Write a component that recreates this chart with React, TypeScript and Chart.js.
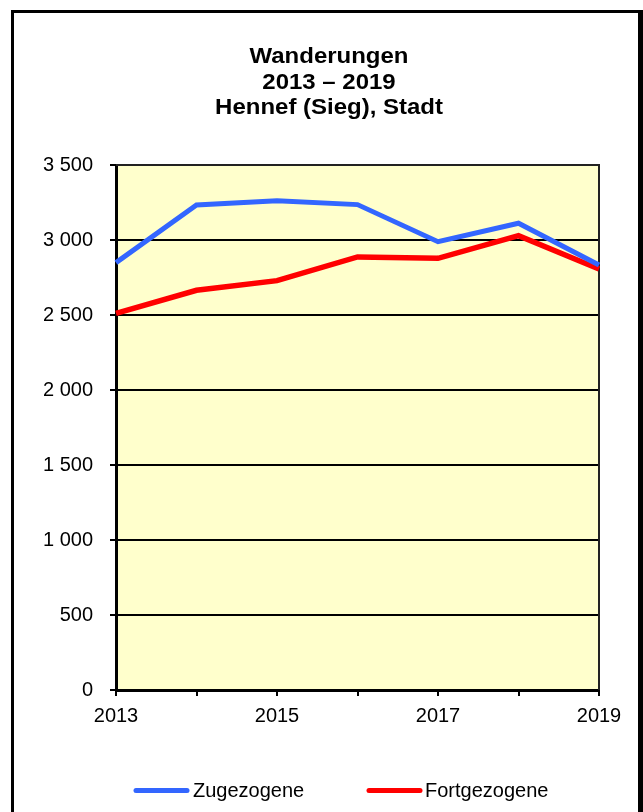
import React, { useEffect, useRef } from "react";
import { Chart, registerables } from "chart.js";

Chart.register(...registerables);

const years = ["2013", "2014", "2015", "2016", "2017", "2018", "2019"];
const zugezogene = [2849, 3233, 3262, 3236, 2989, 3112, 2833];
const fortgezogene = [2511, 2665, 2729, 2887, 2878, 3029, 2807];
const titleLines = ["Wanderungen", "2013 \u2013 2019", "Hennef (Sieg), Stadt"];
const seriesNames = ["Zugezogene", "Fortgezogene"];
const seriesColors = ["#3366FF", "#FF0000"];

const FONT = "'Liberation Sans', Arial, Helvetica, sans-serif";

function fmt(v: number): string {
  if (v >= 1000) {
    const th = Math.floor(v / 1000);
    const rest = String(v % 1000).padStart(3, "0");
    return th + " " + rest;
  }
  return String(v);
}

const decorPlugin = {
  id: "decor",
  beforeDraw(chart: any) {
    const ctx = chart.ctx;
    const a = chart.chartArea;
    ctx.save();
    ctx.fillStyle = "#FFFFFF";
    ctx.fillRect(0, 0, chart.width, chart.height);
    // outer frame
    ctx.fillStyle = "#000000";
    ctx.fillRect(11, 10, 632, 3);
    ctx.fillRect(11, 10, 3, chart.height - 10);
    ctx.fillRect(638, 10, 5, chart.height - 10);
    // plot background
    ctx.fillStyle = "#FFFFCC";
    ctx.fillRect(a.left, a.top, a.right - a.left, a.bottom - a.top);
    ctx.restore();
  },
  beforeDatasetsDraw(chart: any) {
    const ctx = chart.ctx;
    const a = chart.chartArea;
    ctx.save();
    ctx.strokeStyle = "#222222";
    ctx.lineWidth = 2;
    ctx.beginPath();
    ctx.moveTo(a.left, a.top);
    ctx.lineTo(a.right, a.top);
    ctx.lineTo(a.right, a.bottom);
    ctx.stroke();
    ctx.restore();
  },
  afterDraw(chart: any) {
    const ctx = chart.ctx;
    ctx.save();
    // title
    ctx.fillStyle = "#000000";
    ctx.font = "bold 22px " + FONT;
    ctx.textAlign = "center";
    ctx.textBaseline = "alphabetic";
    const baselines = [63, 88.5, 114];
    titleLines.forEach((t, i) => {
      ctx.save();
      ctx.translate(329, baselines[i]);
      ctx.scale(1.09, 1);
      ctx.fillText(t, 0, 0);
      ctx.restore();
    });
    // legend
    const items = [
      { x0: 134, x1: 189, tx: 193 },
      { x0: 367, x1: 422, tx: 425 },
    ];
    ctx.font = "20px " + FONT;
    ctx.textAlign = "left";
    ctx.textBaseline = "alphabetic";
    chart.data.datasets.forEach((ds: any, i: number) => {
      const it = items[i];
      ctx.strokeStyle = ds.borderColor;
      ctx.lineWidth = 5;
      ctx.lineCap = "round";
      ctx.beginPath();
      ctx.moveTo(it.x0 + 2, 790.5);
      ctx.lineTo(it.x1 - 2, 790.5);
      ctx.stroke();
      ctx.fillStyle = "#000000";
      ctx.fillText(ds.label, it.tx, 797);
    });
    ctx.restore();
  },
};

export default function App() {
  const ref = useRef<HTMLCanvasElement | null>(null);
  useEffect(() => {
    if (!ref.current) return;
    const chart = new Chart(ref.current, {
      type: "line",
      data: {
        labels: years,
        datasets: [
          {
            label: seriesNames[0],
            data: zugezogene,
            borderColor: seriesColors[0],
            backgroundColor: seriesColors[0],
            borderWidth: 5,
            pointRadius: 0,
            tension: 0,
            fill: false,
          },
          {
            label: seriesNames[1],
            data: fortgezogene,
            borderColor: seriesColors[1],
            backgroundColor: seriesColors[1],
            borderWidth: 5.5,
            pointRadius: 0,
            tension: 0,
            fill: false,
          },
        ],
      },
      options: {
        responsive: false,
        animation: false,
        devicePixelRatio: 1,
        layout: { padding: { left: 0, right: 44, top: 165, bottom: 0 } },
        plugins: {
          legend: { display: false },
          title: { display: false },
          tooltip: { enabled: false },
        },
        scales: {
          x: {
            type: "category",
            offset: false,
            afterFit: (s: any) => {
              s.height = 122;
            },
            grid: {
              display: true,
              drawOnChartArea: false,
              drawTicks: true,
              tickLength: 6,
              color: "#000000",
              lineWidth: 2,
            },
            border: { display: true, color: "#000000", width: 3 },
            ticks: {
              autoSkip: false,
              maxRotation: 0,
              minRotation: 0,
              padding: 8,
              color: "#000000",
              font: { family: FONT, size: 20 },
              callback: (_v: any, i: number) => (i % 2 === 0 ? years[i] : ""),
            },
          },
          y: {
            min: 0,
            max: 3500,
            afterFit: (s: any) => {
              s.width = 116;
            },
            grid: {
              display: true,
              drawTicks: true,
              tickLength: 6,
              color: "#000000",
              lineWidth: 2,
            },
            border: { display: true, color: "#000000", width: 3 },
            ticks: {
              stepSize: 500,
              padding: 17,
              color: "#000000",
              font: { family: FONT, size: 20 },
              callback: (v: any) => fmt(Number(v)),
            },
          },
        },
      },
      plugins: [decorPlugin],
    });
    return () => chart.destroy();
  }, []);
  return (
    <div style={{ position: "absolute", left: 0, top: 0, width: 643, height: 812 }}>
      <canvas ref={ref} width={643} height={812} style={{ display: "block" }} />
    </div>
  );
}
